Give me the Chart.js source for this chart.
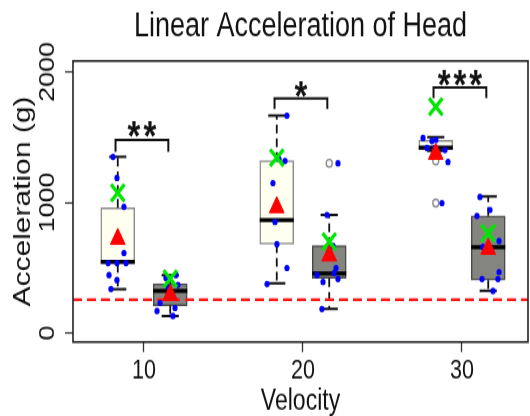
<!DOCTYPE html>
<html><head><meta charset="utf-8">
<script src="https://cdn.jsdelivr.net/npm/chart.js@4.4.1/dist/chart.umd.min.js"></script>
<style>html,body{margin:0;padding:0;background:#fff;overflow:hidden}</style>
</head><body>
<canvas id="c" width="530" height="333" style="display:block;width:530px;height:416px"></canvas>
<script>
// ---------- data ----------
const categories = [10, 20, 30];                 // Velocity
const xTickLabels = ['10', '20', '30'];
const yTickValues = [0, 1000, 2000];
const yTickLabels = ['0', '1000', '2000'];
const threshold = 255;                           // red dashed reference line

// left (light) boxes
const leftLow    = [335, 381, 1395];
const leftQ1     = [530, 680, 1405];
const leftMedian = [545, 866, 1420];
const leftQ3     = [960, 1320, 1475];
const leftHigh   = [1351, 1665, 1500];
const leftMean   = [720, 963, 1372];
const leftCross  = [1073, 1343, 1734];
const leftOutliers = [[], [], [1318, 996]];
const leftPtsX = [
  [8.05, 8.30, 8.74, 8.74, 7.74, 8.30, 8.87, 7.80, 8.30, 7.92],
  [18.99, 18.49, 18.87, 18.11, 18.24, 18.36, 18.99, 17.74],
  [27.55, 28.11, 28.36, 27.80, 28.30, 28.93, 29.12, 28.74]
];
const leftPtsY = [
  [1349, 1188, 966, 613, 536, 536, 536, 444, 406, 337],
  [1665, 1333, 1318, 1149, 851, 681, 498, 375],
  [1494, 1471, 1479, 1418, 1418, 1402, 1310, 996]
];

// right (grey) boxes
const rightLow    = [130, 184, 324];
const rightQ1     = [210, 419, 406];
const rightMedian = [322, 457, 657];
const rightQ3     = [378, 669, 897];
const rightHigh   = [444, 904, 1045];
const rightMean   = [290, 593, 644];
const rightCross  = [415, 700, 764];
const rightOutliers = [[], [1300], []];
const rightPtsX = [
  [11.38, 12.01, 11.51, 12.14, 11.01, 10.82, 11.95, 11.82],
  [22.20, 21.51, 21.89, 22.08, 20.88, 21.95, 22.20, 21.26, 21.19],
  [31.13, 31.76, 30.94, 32.33, 31.32, 32.33, 31.26, 32.26, 31.95]
];
const rightPtsY = [
  [421, 444, 352, 368, 230, 169, 192, 130],
  [1300, 904, 667, 498, 444, 460, 414, 391, 184],
  [1042, 943, 897, 705, 659, 467, 414, 414, 322]
];

// significance brackets
const bracketTop  = [1479, 1798, 1880];
const bracketFoot = [1389, 1716, 1800];
const starLabels  = ['**', '*', '***'];
const starY       = [1581, 1885, 1977];

// ---------- layout constants (positions / sizes, not data) ----------
const X_MIN = 5.535, X_MAX = 34.151, Y_MIN = -69, Y_MAX = 2084;
const OFF = 1.65, HALF_BOX = 1.07, HALF_CAP = 0.54;
const BR_L = -1.79, BR_R = 1.53, STAR_DX = -0.13;
const FONT = '"Liberation Sans", Arial, Helvetica, sans-serif';

function segments(side, fn) {
  const out = [];
  categories.forEach((c, i) => {
    const cx = c + side * OFF;
    fn(cx, i).forEach(seg => { out.push(...seg, {x: seg[seg.length - 1].x, y: null}); });
  });
  return out;
}
const L = {low: leftLow, q1: leftQ1, med: leftMedian, q3: leftQ3, hi: leftHigh};
const R = {low: rightLow, q1: rightQ1, med: rightMedian, q3: rightQ3, hi: rightHigh};
const pick = (side) => side < 0 ? L : R;

function whiskers() {
  const out = [];
  [-1, 1].forEach(s => out.push(...segments(s, (cx, i) => [
    [{x: cx, y: pick(s).q3[i]}, {x: cx, y: pick(s).hi[i]}],
    [{x: cx, y: pick(s).q1[i]}, {x: cx, y: pick(s).low[i]}]
  ])));
  return out;
}
function caps() {
  const out = [];
  [-1, 1].forEach(s => out.push(...segments(s, (cx, i) => [
    [{x: cx - HALF_CAP, y: pick(s).hi[i]}, {x: cx + HALF_CAP, y: pick(s).hi[i]}],
    [{x: cx - HALF_CAP, y: pick(s).low[i]}, {x: cx + HALF_CAP, y: pick(s).low[i]}]
  ])));
  return out;
}
function medians() {
  const out = [];
  [-1, 1].forEach(s => out.push(...segments(s, (cx, i) => [
    [{x: cx - HALF_BOX, y: pick(s).med[i]}, {x: cx + HALF_BOX, y: pick(s).med[i]}]
  ])));
  return out;
}
function brackets() {
  const out = [];
  categories.forEach((c, i) => {
    out.push({x: c + BR_L, y: bracketFoot[i]}, {x: c + BR_L, y: bracketTop[i]},
             {x: c + BR_R, y: bracketTop[i]}, {x: c + BR_R, y: bracketFoot[i]},
             {x: c + BR_R, y: null});
  });
  return out;
}
const pts = (xs, ys) => xs.flatMap((arr, i) => arr.map((x, j) => ({x, y: ys[i][j]})));
const outl = (side, arr) => categories.flatMap((c, i) => arr[i].map(v => ({x: c + side * OFF, y: v})));
const markers = (side, arr) => categories.map((c, i) => ({x: c + side * OFF, y: arr[i]}));

const decor = {
  id: 'decor',
  afterDatasetsDraw(chart) {
    const {ctx, chartArea: a, scales: {x, y}} = chart;
    ctx.save();
    ctx.strokeStyle = '#222';
    ctx.lineWidth = 1.6;
    ctx.strokeRect(a.left, a.top, a.right - a.left, a.bottom - a.top);
    // significance stars
    ctx.fillStyle = '#111';
    ctx.font = 'bold 33px ' + FONT;
    ctx.textAlign = 'center';
    ctx.textBaseline = 'alphabetic';
    if ('letterSpacing' in ctx) ctx.letterSpacing = '3px';
    starLabels.forEach((s, i) => {
      ctx.fillText(s, x.getPixelForValue(categories[i] + STAR_DX) + 1.5,
                   y.getPixelForValue(starY[i]) + 0.57 * 33);
    });
    if ('letterSpacing' in ctx) ctx.letterSpacing = '0px';
    // rotated y tick labels
    ctx.font = '21.5px ' + FONT;
    ctx.textAlign = 'center';
    ctx.textBaseline = 'middle';
    yTickValues.forEach((v, i) => {
      ctx.save();
      ctx.translate(a.left - 24.7, y.getPixelForValue(v));
      ctx.rotate(-Math.PI / 2);
      ctx.fillText(yTickLabels[i], 0, 0);
      ctx.restore();
    });
    ctx.restore();
  }
};

new Chart(document.getElementById('c'), {
  type: 'bar',
  data: {
    datasets: [
      {type: 'line', order: 0, data: brackets(), borderColor: '#111', borderWidth: 2,
       pointRadius: 0, spanGaps: false, borderJoinStyle: 'miter', tension: 0},
      {type: 'scatter', order: 1, data: markers(-1, leftCross).concat(markers(1, rightCross)),
       pointStyle: 'crossRot', pointRadius: 9.5, borderColor: '#00e600', borderWidth: 3.2},
      {type: 'scatter', order: 2, data: markers(-1, leftMean).concat(markers(1, rightMean)),
       pointStyle: 'triangle', pointRadius: 8.5, backgroundColor: '#ff0000', borderColor: '#ff0000', borderWidth: 1},
      {type: 'scatter', order: 3, data: pts(leftPtsX, leftPtsY).concat(pts(rightPtsX, rightPtsY)),
       pointStyle: 'circle', pointRadius: 2.6, backgroundColor: '#0000ff', borderColor: '#0000ff', borderWidth: 0},
      {type: 'scatter', order: 4, data: outl(-1, leftOutliers).concat(outl(1, rightOutliers)),
       pointStyle: 'circle', pointRadius: 3, backgroundColor: '#ffffff', borderColor: '#8a8a8a', borderWidth: 1.3},
      {type: 'line', order: 5, data: [{x: X_MIN, y: threshold}, {x: X_MAX, y: threshold}],
       borderColor: '#ff1a1a', borderWidth: 2.4, borderDash: [9, 5], pointRadius: 0},
      {type: 'line', order: 6, data: medians(), borderColor: '#000', borderWidth: 3.2,
       pointRadius: 0, spanGaps: false, borderCapStyle: 'butt'},
      {type: 'line', order: 7, data: caps(), borderColor: '#111', borderWidth: 2,
       pointRadius: 0, spanGaps: false},
      {type: 'line', order: 8, data: whiskers(), borderColor: '#111', borderWidth: 1.8,
       borderDash: [7, 4], pointRadius: 0, spanGaps: false},
      {type: 'bar', order: 9, label: 'left', data: categories.map((c, i) => ({x: c - OFF, y: [leftQ1[i], leftQ3[i]]})),
       backgroundColor: '#fffff0', borderColor: '#8c8c8c', borderWidth: 1.5, borderSkipped: false,
       barThickness: 34, grouped: false},
      {type: 'bar', order: 10, label: 'right', data: categories.map((c, i) => ({x: c + OFF, y: [rightQ1[i], rightQ3[i]]})),
       backgroundColor: '#858580', borderColor: '#4a4a4a', borderWidth: 1.5, borderSkipped: false,
       barThickness: 34, grouped: false}
    ]
  },
  options: {
    responsive: false,
    devicePixelRatio: 1,
    animation: false,
    events: [],
    layout: {autoPadding: false, padding: {left: 0, right: 2, top: 0, bottom: 0}},
    plugins: {
      legend: {display: false},
      tooltip: {enabled: false},
      title: {display: true, text: 'Linear Acceleration of Head', fullSize: false, color: '#111',
              font: {family: FONT, size: 27, weight: 'normal', lineHeight: 1.2},
              padding: {top: 5, bottom: 11.4}}
    },
    scales: {
      x: {
        type: 'linear', min: X_MIN, max: X_MAX, offset: false,
        afterBuildTicks: s => { s.ticks = categories.map(v => ({value: v})); },
        afterFit: s => { s.height = 333 - 273.76; },
        ticks: {callback: (v, i) => xTickLabels[i], color: '#111', padding: 2.1,
                font: {family: FONT, size: 21.5}, maxRotation: 0, autoSkip: false},
        grid: {display: true, drawOnChartArea: false, drawTicks: true, tickLength: 8, offset: false,
               tickColor: '#333', tickWidth: 1.3},
        border: {display: false},
        title: {display: true, text: 'Velocity', color: '#111',
                font: {family: FONT, size: 23, lineHeight: 1.0}, padding: 0}
      },
      y: {
        type: 'linear', min: Y_MIN, max: Y_MAX,
        afterBuildTicks: s => { s.ticks = yTickValues.map(v => ({value: v})); },
        afterFit: s => { s.width = 73; },
        ticks: {display: false},
        grid: {display: true, drawOnChartArea: false, drawTicks: true, tickLength: 8,
               tickColor: '#333', tickWidth: 1.3},
        border: {display: false},
        title: {display: true, text: 'Acceleration (g)', color: '#111',
                font: {family: FONT, size: 24, lineHeight: 1.2}, padding: {top: 8.5, bottom: 0}}
      }
    }
  },
  plugins: [decor]
});
</script>
</body></html>
